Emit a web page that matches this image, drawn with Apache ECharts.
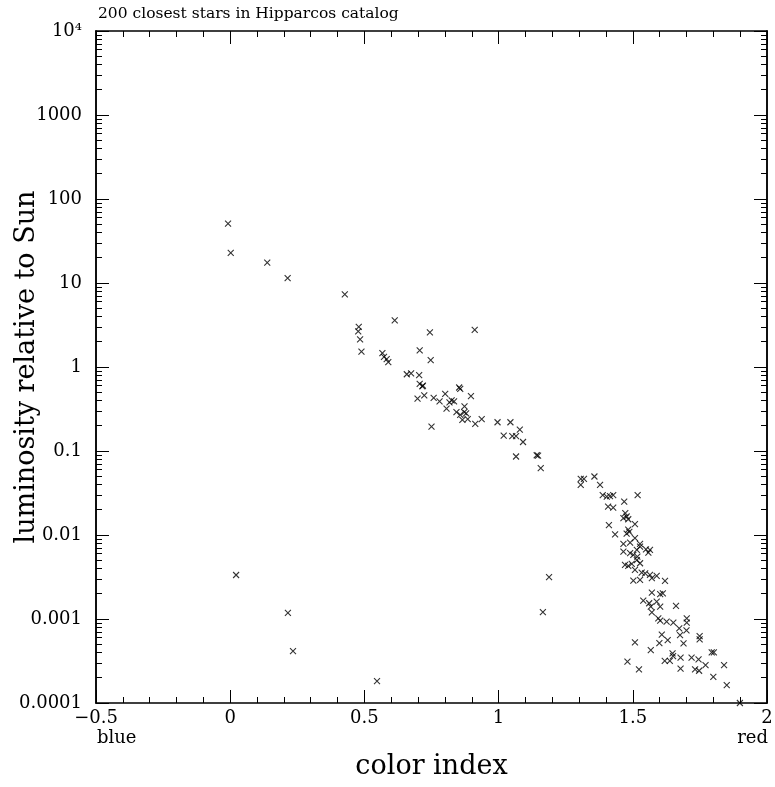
<!DOCTYPE html>
<html>
<head>
<meta charset="utf-8">
<script src="https://cdn.jsdelivr.net/npm/echarts@6/dist/echarts.min.js"></script>
<style>
  html, body { margin: 0; padding: 0; background: #fff; }
  #chart { width: 775px; height: 787px; }
</style>
</head>
<body>
<div id="chart"></div>
<script>
// color index (B-V) of each star
const colorIndex = [
  -0.008, 0.002, 0.138, 0.214, 0.427, 0.613, 0.479, 0.477, 0.484, 0.489,
  0.744, 0.911, 0.567, 0.573, 0.583, 0.589, 0.706, 0.747, 0.658, 0.674,
  0.704, 0.706, 0.716, 0.718, 0.801, 0.853, 0.857, 0.897, 0.698, 0.723,
  0.758, 0.780, 0.817, 0.825, 0.834, 0.806, 0.873, 0.843, 0.857, 0.872,
  0.879, 0.865, 0.885, 0.913, 0.937, 0.750, 0.996, 1.044, 1.079, 1.019,
  1.051, 1.065, 1.091, 1.065, 1.142, 1.147, 1.157,
  0.022, 0.215, 0.234, 0.547, 1.188, 1.165,
  1.306, 1.318, 1.306, 1.357, 1.378, 1.388, 1.403, 1.415, 1.427, 1.518,
  1.468, 1.408, 1.427, 1.472, 1.465, 1.477, 1.483, 1.508, 1.411, 1.434,
  1.483, 1.487, 1.477, 1.508, 1.465, 1.490, 1.527, 1.465, 1.490, 1.502,
  1.515, 1.527, 1.564, 1.558, 1.549, 1.517, 1.515, 1.527, 1.471, 1.483,
  1.496, 1.508, 1.533, 1.546, 1.564, 1.571, 1.589, 1.620, 1.502, 1.527,
  1.571, 1.602, 1.612, 1.539, 1.561, 1.589, 1.567, 1.602, 1.661, 1.571,
  1.595, 1.602, 1.626, 1.651, 1.701, 1.701, 1.673, 1.700, 1.676, 1.608,
  1.630, 1.599, 1.508, 1.567, 1.689, 1.749, 1.749, 1.648, 1.650, 1.619,
  1.638, 1.678, 1.719, 1.745, 1.771, 1.794, 1.802, 1.480, 1.523, 1.678,
  1.732, 1.747, 1.840, 1.800, 1.850, 1.899
];

// luminosity relative to the Sun
const luminosity = [
  51, 22.8, 17.5, 11.4, 7.3, 3.6, 3.0, 2.65, 2.13, 1.52,
  2.58, 2.76, 1.46, 1.32, 1.24, 1.14, 1.58, 1.21, 0.82, 0.84,
  0.80, 0.63, 0.59, 0.60, 0.48, 0.57, 0.55, 0.45, 0.42, 0.46,
  0.43, 0.39, 0.38, 0.40, 0.39, 0.32, 0.34, 0.29, 0.27, 0.29,
  0.28, 0.235, 0.24, 0.21, 0.24, 0.195, 0.22, 0.22, 0.18, 0.152,
  0.15, 0.15, 0.128, 0.086, 0.089, 0.088, 0.0625,
  0.00334, 0.00118, 0.000415, 0.000182, 0.00316, 0.00121,
  0.0467, 0.0467, 0.0395, 0.0497, 0.0395, 0.0298, 0.0287, 0.029, 0.0298, 0.0298,
  0.025, 0.0218, 0.0212, 0.0182, 0.0159, 0.0166, 0.0154, 0.0135, 0.0131, 0.0102,
  0.0116, 0.0109, 0.0104, 0.00916, 0.00784, 0.00813, 0.00784, 0.00634, 0.00607, 0.00579,
  0.00664, 0.00727, 0.00664, 0.00617, 0.00675, 0.00552, 0.00502, 0.00461, 0.00441, 0.00429,
  0.00453, 0.00385, 0.00357, 0.0035, 0.00335, 0.00306, 0.00326, 0.00284, 0.00286, 0.00292,
  0.00206, 0.00198, 0.00202, 0.00165, 0.00154, 0.00161, 0.0014, 0.0014, 0.00143, 0.0012,
  0.00102, 0.000955, 0.000929, 0.000904, 0.00102, 0.000904, 0.000775, 0.000733, 0.000644, 0.00065,
  0.000562, 0.000517, 0.000527, 0.000427, 0.000513, 0.000626, 0.000573, 0.00039, 0.000362, 0.000318,
  0.000318, 0.000346, 0.000346, 0.000331, 0.000283, 0.000401, 0.000401, 0.00031, 0.000252, 0.000256,
  0.000252, 0.000242, 0.000283, 0.000205, 0.000163, 0.0001
];

const yMajor = [1e-4, 1e-3, 1e-2, 1e-1, 1, 10, 100, 1000, 1e4];
const yLabels = ["0.0001", "0.001", "0.01", "0.1", "1", "10", "100", "1000", "10\u2074"];

const yMinor = [];
for (let d = -4; d < 4; d++) {
  for (let k = 2; k <= 9; k++) yMinor.push(k * Math.pow(10, d));
}

const font = "DejaVu Serif";
const black = "#000";
const line = { show: true, onZero: false, lineStyle: { color: black, width: 1.5 } };

const xBase = {
  type: "value",
  min: -0.5,
  max: 2,
  interval: 0.5,
  axisLine: line,
  axisTick: { inside: true, length: 13, lineStyle: { color: black, width: 1 } },
  minorTick: { show: true, splitNumber: 5, length: 6, lineStyle: { color: black, width: 1 } },
  splitLine: { show: false },
  minorSplitLine: { show: false }
};

const yBase = {
  type: "log",
  logBase: 10,
  min: 1e-4,
  max: 1e4,
  splitLine: { show: false },
  axisLine: line
};

const chart = echarts.init(document.getElementById("chart"));
chart.setOption({
  animation: false,
  backgroundColor: "#fff",
  title: {
    text: "200 closest stars in Hipparcos catalog",
    left: 93,
    top: 1,
    textStyle: { fontFamily: font, fontSize: 15.5, fontWeight: "normal", color: black }
  },
  grid: { left: 96, right: 8, top: 31, bottom: 84, outerBoundsMode: "none" },
  graphic: [
    { type: "text", left: 97, top: 729, style: { text: "blue", fontFamily: font, fontSize: 18, fill: black } },
    { type: "text", right: 7, top: 729, style: { text: "red", fontFamily: font, fontSize: 18, fill: black } }
  ],
  xAxis: [
    Object.assign({}, xBase, {
      position: "bottom",
      name: "color index",
      nameLocation: "middle",
      nameGap: 50,
      nameMoveOverlap: false,
      nameTextStyle: { fontFamily: font, fontSize: 27, color: black },
      axisLabel: {
        margin: 6,
        fontFamily: font,
        fontSize: 18,
        color: black,
        formatter: (v) => String(v).replace("-", "\u2212")
      }
    }),
    Object.assign({}, xBase, { position: "top", axisLabel: { show: false } })
  ],
  yAxis: [
    Object.assign({}, yBase, {
      position: "left",
      name: "luminosity relative to Sun",
      nameLocation: "middle",
      nameGap: 56,
      nameMoveOverlap: false,
      nameTextStyle: { fontFamily: font, fontSize: 27, color: black },
      axisTick: { inside: true, length: 13, customValues: yMajor, lineStyle: { color: black, width: 1 } },
      axisLabel: {
        customValues: yMajor,
        margin: 14,
        fontFamily: font,
        fontSize: 18,
        color: black,
        formatter: (v) => yLabels[Math.round(Math.log10(v)) + 4]
      }
    }),
    Object.assign({}, yBase, {
      position: "left",
      axisTick: { inside: true, length: 6, customValues: yMinor, lineStyle: { color: black, width: 1 } },
      axisLabel: { show: false }
    }),
    Object.assign({}, yBase, {
      position: "right",
      axisTick: { inside: true, length: 13, customValues: yMajor, lineStyle: { color: black, width: 1 } },
      axisLabel: { show: false }
    }),
    Object.assign({}, yBase, {
      position: "right",
      axisTick: { inside: true, length: 6, customValues: yMinor, lineStyle: { color: black, width: 1 } },
      axisLabel: { show: false }
    })
  ],
  series: [
    {
      type: "scatter",
      xAxisIndex: 0,
      yAxisIndex: 0,
      symbol: "path://M0,0L10,10M10,0L0,10",
      symbolSize: 6,
      itemStyle: { color: "none", borderColor: black, borderWidth: 1.1 },
      data: colorIndex.map((c, i) => [c, luminosity[i]])
    }
  ]
});
</script>
</body>
</html>
